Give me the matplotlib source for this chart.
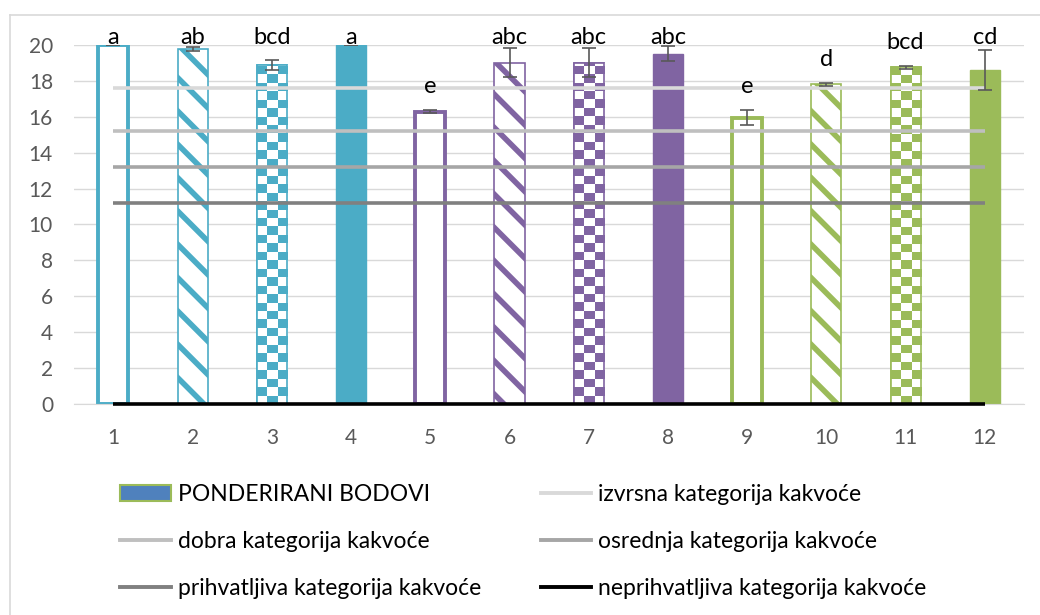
import matplotlib.pyplot as plt
import numpy as np
from matplotlib.colors import ListedColormap
from matplotlib.patches import Patch
from matplotlib.lines import Line2D

plt.rcParams['font.family'] = ['Lato', 'DejaVu Sans']
plt.rcParams['hatch.linewidth'] = 4.0

# data
samples = ['1', '2', '3', '4', '5', '6', '7', '8', '9', '10', '11', '12']
bodovi = [20.0, 19.76, 18.9, 20.0, 16.28, 19.0, 19.0, 19.5, 15.95, 17.8, 18.75, 18.6]
greska = [0.0, 0.1, 0.28, 0.0, 0.1, 0.8, 0.8, 0.42, 0.42, 0.1, 0.1, 1.13]
slova = ['a', 'ab', 'bcd', 'a', 'e', 'abc', 'abc', 'abc', 'e', 'd', 'bcd', 'cd']

kat_imena = ['izvrsna kategorija kakvoće', 'dobra kategorija kakvoće',
             'osrednja kategorija kakvoće', 'prihvatljiva kategorija kakvoće',
             'neprihvatljiva kategorija kakvoće']
kat_granice = [17.6, 15.2, 13.2, 11.2, 0.0]
kat_boje = ['#D9D9D9', '#BFBFBF', '#A6A6A6', '#808080', '#000000']

boje = ['#4BACC6'] * 4 + ['#8064A2'] * 4 + ['#9BBB59'] * 4
uzorak = ['empty', 'stripe', 'check', 'solid'] * 3

fig = plt.figure(figsize=(10.4, 6.15), dpi=100)
ax = fig.add_axes([0.071, 0.343, 0.914, 0.584])

x = np.arange(1, len(samples) + 1)
w = 0.38

for xi, v, c, u in zip(x, bodovi, boje, uzorak):
    if u == 'empty':
        ax.bar(xi, v, w, facecolor='white', edgecolor=c, linewidth=2.8, zorder=2)
    elif u == 'stripe':
        ax.bar(xi, v, w, facecolor='white', edgecolor=c, linewidth=1.2,
               hatch='\\', zorder=2)
    elif u == 'check':
        b = ax.bar(xi, v, w, facecolor='white', edgecolor=c, linewidth=1.2, zorder=2)[0]
        ncol = 3
        nrow = int(np.ceil(v / 0.47))
        board = (np.add.outer(np.arange(nrow), np.arange(ncol)) % 2).astype(float)
        im = ax.imshow(board, extent=[xi - w / 2, xi + w / 2, 0, nrow * 0.47],
                       origin='lower', aspect='auto', interpolation='nearest',
                       cmap=ListedColormap(['white', c]), zorder=2.1)
        im.set_clip_path(b)
        ax.bar(xi, v, w, facecolor='none', edgecolor=c, linewidth=1.2, zorder=2.2)
    else:
        ax.bar(xi, v, w, facecolor=c, edgecolor=c, linewidth=1, zorder=2)

# quality category lines
for g, c in zip(kat_granice, kat_boje):
    ax.plot([x[0], x[-1]], [g, g], color=c, lw=2.6, zorder=3,
            solid_capstyle='butt', clip_on=False)

ax.errorbar(x, bodovi, yerr=greska, fmt='none', ecolor='#595959',
            elinewidth=1.2, capsize=5, capthick=1.2, zorder=4)

for xi, v, e, s in zip(x, bodovi, greska, slova):
    ly = min(v + e + 1.3, 20.4)
    ax.text(xi, ly, s, ha='center', va='center', fontsize=17,
            color='black', zorder=5, clip_on=False)

ax.set_xlim(0.5, len(samples) + 0.5)
ax.set_ylim(0, 20)
ax.set_yticks(np.arange(0, 21, 2))
ax.set_xticks(x)
ax.set_xticklabels(samples)
ax.tick_params(length=0, labelsize=15, labelcolor='#595959')
ax.tick_params(axis='x', pad=17)
ax.tick_params(axis='y', pad=15)
ax.grid(axis='y', color='#D9D9D9', lw=1, zorder=0)
ax.set_axisbelow(True)
for sp in ['top', 'right', 'left']:
    ax.spines[sp].set_visible(False)
ax.spines['bottom'].set_color('#D9D9D9')

# legend in two columns
h1 = [Patch(facecolor='#4F81BD', edgecolor='#9BBB59', linewidth=1.5),
      Line2D([], [], color=kat_boje[1], lw=2.8),
      Line2D([], [], color=kat_boje[3], lw=2.8)]
l1 = ['PONDERIRANI BODOVI', kat_imena[1], kat_imena[3]]
h2 = [Line2D([], [], color=kat_boje[i], lw=2.8) for i in (0, 2, 4)]
l2 = [kat_imena[i] for i in (0, 2, 4)]
for h, l, xpos in [(h1, l1, 0.107), (h2, l2, 0.511)]:
    fig.legend(h, l, loc='upper left', bbox_to_anchor=(xpos, 0.228),
               frameon=False, fontsize=16.5, handlelength=2.2, handleheight=0.7,
               handletextpad=0.3, labelspacing=1.13, borderaxespad=0)

# chart frame
fig.add_artist(Line2D([10 / 1040, 10 / 1040], [0, 1 - 15 / 615],
                      transform=fig.transFigure, color='#D9D9D9', lw=1.2))
fig.add_artist(Line2D([10 / 1040, 1], [1 - 15 / 615, 1 - 15 / 615],
                      transform=fig.transFigure, color='#D9D9D9', lw=1.2))

fig.savefig('out.png', dpi=100)
